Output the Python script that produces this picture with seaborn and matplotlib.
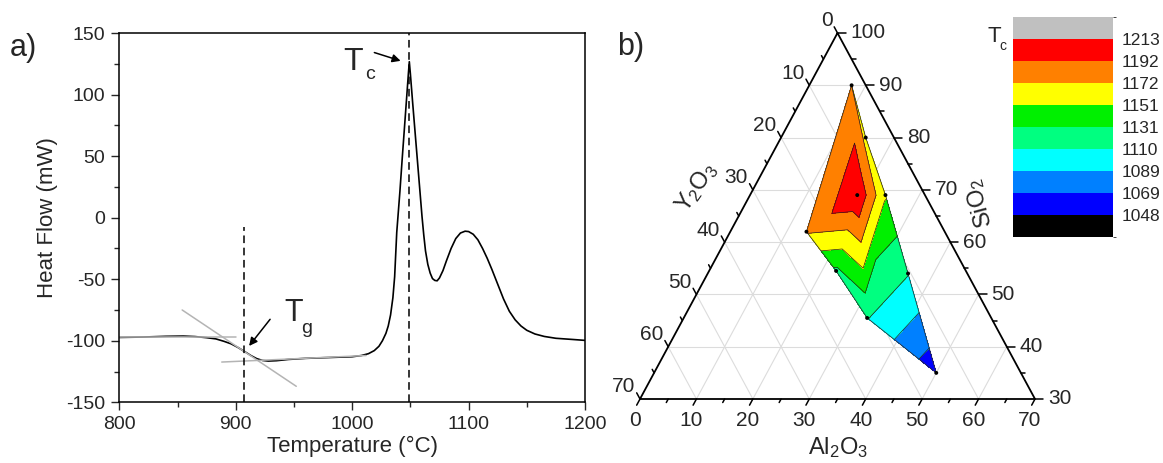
import numpy as np
import matplotlib
matplotlib.use("Agg")
import matplotlib.pyplot as plt
import matplotlib.tri as mtri
from matplotlib.colors import ListedColormap, BoundaryNorm
from matplotlib.cm import ScalarMappable
import seaborn as sns

# ---------------- DSC trace (panel a) ----------------
temperature = [800, 820, 840, 855, 865, 875, 883, 890, 896, 902, 908, 913, 918, 923,
               928, 935, 945, 960, 975, 990, 1000, 1008, 1014, 1019, 1023, 1026, 1029,
               1031, 1033, 1035, 1036.5, 1038.3, 1041, 1043, 1045, 1047, 1048.3, 1049.1,
               1050, 1052, 1054, 1056, 1058, 1060, 1061.5, 1063, 1065, 1067, 1069, 1071,
               1073, 1075, 1078, 1081, 1085, 1089, 1093, 1097, 1100, 1104, 1108, 1112,
               1116, 1120, 1125, 1130, 1135, 1140, 1145, 1150, 1157, 1165, 1175, 1190, 1200]
heat_flow = [-97.3, -97.0, -96.4, -96.2, -96.6, -97.5, -98.5, -100.5, -102.5, -105.5, -109,
             -112, -114.5, -116, -116.5, -116.2, -115.2, -114.3, -113.8, -113.3, -113, -112,
             -110.5, -108, -104.5, -100, -94, -88, -79, -65, -48, -12, 21, 48, 74, 100, 117,
             126.7, 117, 93, 70, 47, 24, 1, -14, -27, -38, -45, -49.5, -51, -51.3, -49, -43,
             -35, -25, -17, -12.5, -11, -11.3, -13.5, -18, -25, -33, -42, -54, -66, -76, -83,
             -88, -91.5, -94.5, -96.5, -98, -99, -99.7]

tg_temp, tg_line_top = 907.5, -8
tc_temp, tc_peak = 1049.1, 126.7

# tangent construction at the glass transition
tangent_before_t, tangent_before_hf = [800, 900], [-97.3, -97.3]
tangent_slope_t, tangent_slope_hf = [854, 952], [-75, -137]
tangent_after_t, tangent_after_hf = [888, 1012], [-117.3, -112]

# ---------------- ternary data (panel b) ----------------
al2o3 = [7.5, 15, 24, 19, 13.5, 22.5, 35.5, 32.5, 50]
y2o3 = [2.5, 5, 7, 12, 24.5, 23, 10.5, 22, 15]
sio2 = [90, 80, 69, 69, 62, 54.5, 54, 45.5, 35]
tc_values = [1172, 1166, 1153, 1210, 1174, 1127, 1111, 1111, 1055]
# triangles connecting the measured compositions
mesh = [(0, 1, 3), (0, 3, 4), (1, 2, 3), (2, 7, 3),
        (2, 6, 7), (3, 7, 5), (3, 5, 4), (6, 8, 7)]

tc_levels = [1048, 1069, 1089, 1110, 1131, 1151, 1172, 1192, 1213]
level_colors = ["#000000", "#0000ff", "#0080ff", "#00ffff", "#00ff80",
                "#00f000", "#ffff00", "#ff8000", "#ff0000", "#c0c0c0"]

left_ticks = [0, 10, 20, 30, 40, 50, 60, 70]          # Y2O3
right_ticks = [100, 90, 80, 70, 60, 50, 40, 30]       # SiO2
bottom_ticks = [0, 10, 20, 30, 40, 50, 60, 70]        # Al2O3

# ---------------- style ----------------
sns.set_style("ticks")
plt.rcParams["font.family"] = ["Liberation Sans", "DejaVu Sans"]
plt.rcParams["mathtext.default"] = "regular"
plt.rcParams["axes.unicode_minus"] = False

FW, FH = 1163, 463
fig = plt.figure(figsize=(FW / 100, FH / 100), dpi=100)

def px_rect(x0, y0, x1, y1):
    return [x0 / FW, 1 - y1 / FH, (x1 - x0) / FW, (y1 - y0) / FH]

# ================= panel a =================
ax = fig.add_axes(px_rect(119.3, 33, 585, 402.3))
sns.lineplot(x=temperature, y=heat_flow, ax=ax, color="black", lw=1.2)
ax.plot(tangent_before_t, tangent_before_hf, color="#b4b4b4", lw=1.1)
ax.plot(tangent_slope_t, tangent_slope_hf, color="#b4b4b4", lw=1.1)
ax.plot(tangent_after_t, tangent_after_hf, color="#b4b4b4", lw=1.1)
ax.plot([tc_temp, tc_temp], [-150, 150], color="black", lw=1.1, dashes=(5, 3))
ax.plot([tg_temp, tg_temp], [-150, tg_line_top], color="black", lw=1.1, dashes=(5, 3))

ax.set_xlim(800, 1200)
ax.set_ylim(-150, 150)
ax.set_xticks([800, 900, 1000, 1100, 1200])
ax.set_xticks([850, 950, 1050, 1150], minor=True)
ax.set_yticks([-150, -100, -50, 0, 50, 100, 150])
ax.set_yticks([-125, -75, -25, 25, 75, 125], minor=True)
ax.tick_params(which="major", length=6, width=1, labelsize=14, pad=4, direction="out")
ax.tick_params(which="minor", length=3.5, width=1, direction="out")
for s in ax.spines.values():
    s.set_linewidth(1.1)
    s.set_color("black")
ax.set_xlabel("Temperature (°C)", fontsize=16, labelpad=2)
ax.set_ylabel("Heat Flow (mW)", fontsize=16, labelpad=6)

ax.annotate("", xy=(1043.9, tc_peak), xytext=(1016.8, 134.8),
            arrowprops=dict(arrowstyle="-|>", color="black", lw=1.1, mutation_scale=12))
ax.text(992.5, 120, "T", fontsize=23, ha="left", va="baseline")
ax.text(1011, 112.5, "c", fontsize=14, ha="left", va="baseline")
ax.annotate("", xy=(910, -106), xytext=(931, -80.8),
            arrowprops=dict(arrowstyle="-|>", color="black", lw=1.1, mutation_scale=12))
ax.text(941.5, -84.3, "T", fontsize=22, ha="left", va="baseline")
ax.text(956, -93.5, "g", fontsize=14, ha="left", va="baseline")

fig.text(10 / FW, 1 - 48 / FH, "a)", fontsize=22, ha="left", va="center")

# ================= panel b =================
W, H, SPAN = 197.5, 366.0, 70.0
tax = fig.add_axes(px_rect(640, 33, 1035, 399))
tax.set_xlim(-W, W)
tax.set_ylim(0, H)
tax.axis("off")

def tern_xy(a, y):
    a = np.asarray(a, float)
    y = np.asarray(y, float)
    return W * (a - y) / SPAN, H * (1 - (a + y) / SPAN)

grid_kw = dict(color="#dcdcdc", lw=0.8, zorder=1)
for v in range(10, 70, 10):
    # constant SiO2 (horizontal)
    s_val = 100 - v
    p0 = tern_xy(0, 100 - s_val)
    p1 = tern_xy(100 - s_val, 0)
    tax.plot([p0[0], p1[0]], [p0[1], p1[1]], **grid_kw)
    # constant Al2O3
    p0 = tern_xy(v, 0)
    p1 = tern_xy(v, SPAN - v)
    tax.plot([p0[0], p1[0]], [p0[1], p1[1]], **grid_kw)
    # constant Y2O3
    p0 = tern_xy(0, v)
    p1 = tern_xy(SPAN - v, v)
    tax.plot([p0[0], p1[0]], [p0[1], p1[1]], **grid_kw)

# contour map of crystallisation temperature
px, py = tern_xy(al2o3, y2o3)
tri = mtri.Triangulation(px, py, triangles=mesh)
cmap = ListedColormap(level_colors)
bounds = [tc_levels[0] - 21] + tc_levels + [tc_levels[-1] + 21]
norm = BoundaryNorm(bounds, cmap.N)
tax.tricontourf(tri, tc_values, levels=bounds, cmap=cmap, norm=norm, zorder=2)
tax.tricontour(tri, tc_values, levels=tc_levels, colors="#202020", linewidths=0.5, zorder=3)
# outline of the sampled region
for t_idx, nb in zip(tri.triangles, tri.neighbors):
    for k in range(3):
        if nb[k] == -1:
            i, j = t_idx[k], t_idx[(k + 1) % 3]
            tax.plot([px[i], px[j]], [py[i], py[j]], color="#303030", lw=0.6, zorder=3)
sns.scatterplot(x=px, y=py, ax=tax, color="black", s=8, edgecolor="none", zorder=4)

# triangle frame
vx, vy = tern_xy([0, SPAN, 0, 0], [0, 0, SPAN, 0])
tax.plot(vx, vy, color="black", lw=1.3, zorder=5, clip_on=False)

d_left = np.array([-W, H]) / np.hypot(W, H)
d_bottom = np.array([-W, -H]) / np.hypot(W, H)
d_right = np.array([1.0, 0.0])
tick_kw = dict(color="black", lw=1.1, zorder=5, clip_on=False)
lab_kw = dict(fontsize=15, clip_on=False)

def draw_tick(p, d, length):
    tax.plot([p[0], p[0] + d[0] * length], [p[1], p[1] + d[1] * length], **tick_kw)

for v in left_ticks:
    p = tern_xy(0, v)
    draw_tick(p, d_left, 7)
    tax.text(p[0] - 5, p[1] + 12, str(v), ha="right", va="center", **lab_kw)
for s_val in right_ticks:
    p = tern_xy(100 - s_val, 0)
    draw_tick(p, d_right, 8)
    tax.text(p[0] + 13, p[1], str(s_val), ha="left", va="center", **lab_kw)
for v in bottom_ticks:
    p = tern_xy(v, SPAN - v)
    draw_tick(p, d_bottom, 7)
    tax.text(p[0] - 5, p[1] - 12, str(v), ha="center", va="top", **lab_kw)
for v in range(5, 70, 10):
    draw_tick(tern_xy(0, v), d_left, 4)
    draw_tick(tern_xy(v, 0), d_right, 4)
    draw_tick(tern_xy(v, SPAN - v), d_bottom, 4)

tax.text(-140.5, 212, r"Y$_\mathregular{2}$O$_\mathregular{3}$", fontsize=17,
         rotation=55, ha="center", va="center", rotation_mode="anchor", clip_on=False)
tax.text(142, 196, r"SiO$_\mathregular{2}$", fontsize=17,
         rotation=105, ha="center", va="center", rotation_mode="anchor", clip_on=False)
tax.text(0.5, -49, r"Al$_\mathregular{2}$O$_\mathregular{3}$", fontsize=17,
         ha="center", va="center", clip_on=False)

fig.text(617 / FW, 1 - 47.5 / FH, "b)", fontsize=22, ha="left", va="center")

# colour scale
cax = fig.add_axes(px_rect(1013, 17, 1113, 237))
sm = ScalarMappable(norm=norm, cmap=cmap)
cb = fig.colorbar(sm, cax=cax, boundaries=bounds, ticks=tc_levels, spacing="uniform")
cb.outline.set_visible(False)
cb.ax.tick_params(length=0, labelsize=12.5, pad=6.5)
cb.ax.set_yticklabels([str(v) for v in tc_levels])
fig.text(987 / FW, 1 - 42 / FH, "T", fontsize=16, ha="left", va="baseline")
fig.text(999 / FW, 1 - 50 / FH, "c", fontsize=10, ha="left", va="baseline")

fig.savefig("out.png", dpi=100)
